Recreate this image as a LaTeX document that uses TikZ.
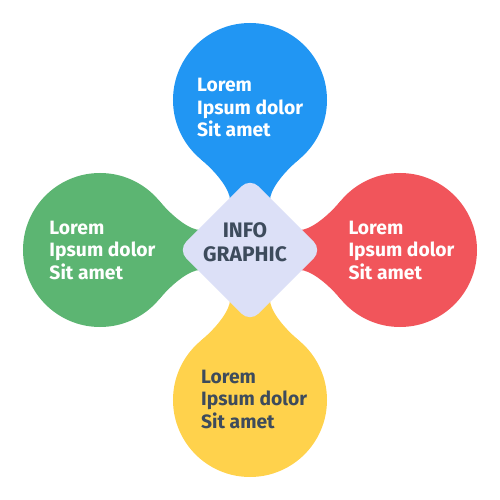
\documentclass[tikz,border=0pt]{standalone}
\usepackage{fontspec}
\setmainfont{Fira Sans}
\definecolor{cblue}{HTML}{2196F3}
\definecolor{cgreen}{HTML}{5CB572}
\definecolor{cred}{HTML}{F1555B}
\definecolor{cyellow}{HTML}{FFD24C}
\definecolor{cdiam}{HTML}{DCE0F7}
\definecolor{cdark}{HTML}{3D4B5C}
\tikzset{
  blobtext/.style={anchor=west, align=left, inner sep=0pt, font=\fontsize{19.3}{22.5}\selectfont\bfseries},
  centertext/.style={align=center, inner sep=0pt, text=cdark, font=\fontsize{21}{24}\selectfont\bfseries},
  pics/blob/.style={code={
    \fill[#1] (0,150) circle (77);
    \fill[#1] (49.5,91) .. controls (31.8,76.2) and (20,59.6) .. (20,50) -- (20,0)
      -- (-20,0) -- (-20,50) .. controls (-20,59.6) and (-31.8,76.2) .. (-49.5,91) -- cycle;
  }}
}
\begin{document}
\begin{tikzpicture}[x=1pt,y=1pt]
\useasboundingbox (-250,-250) rectangle (250,250);
\fill[white] (-250,-250) rectangle (250,250);
\pic {blob=cblue};
\pic[rotate=-90] {blob=cred};
\pic[rotate=180] {blob=cyellow};
\pic[rotate=90] {blob=cgreen};
\fill[cdiam, rounded corners=12pt, rotate=45] (-51,-51) rectangle (51,51);
\node[centertext] (center) at (-5,8) {INFO\\GRAPHIC};
\node[blobtext, text=white] (tblue) at (-53,142.5) {Lorem\\Ipsum dolor\\Sit amet};
\node[blobtext, text=white] (tgreen) at (-200.7,0) {Lorem\\Ipsum dolor\\Sit amet};
\node[blobtext, text=white] (tred) at (98.3,0) {Lorem\\Ipsum dolor\\Sit amet};
\node[blobtext, text=cdark] (tyellow) at (-49,-149.4) {Lorem\\Ipsum dolor\\Sit amet};
\end{tikzpicture}
\end{document}
